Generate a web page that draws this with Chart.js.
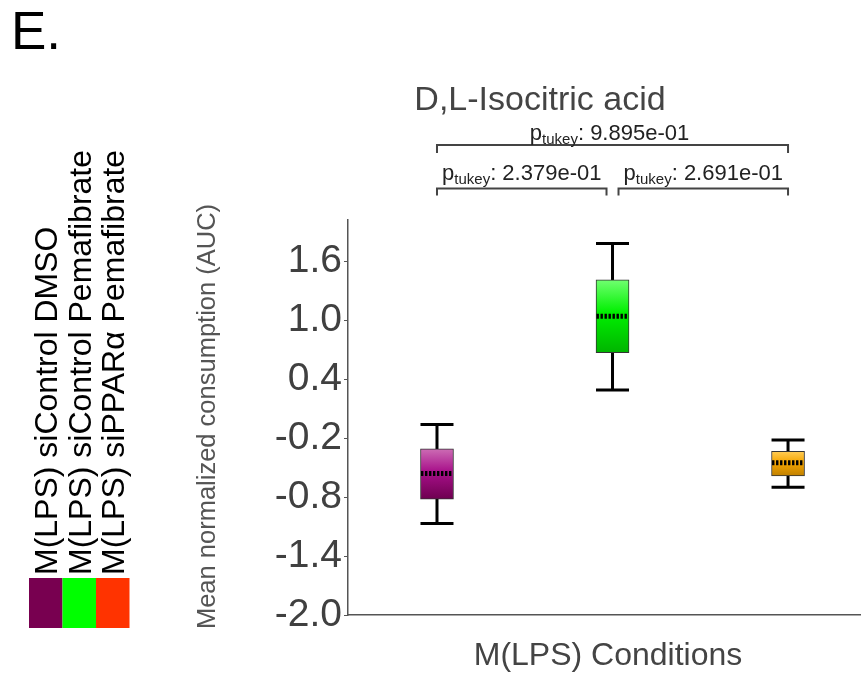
<!DOCTYPE html>
<html>
<head>
<meta charset="utf-8">
<script src="https://cdn.jsdelivr.net/npm/chart.js@4/dist/chart.umd.min.js"></script>
<style>
html,body{margin:0;padding:0;background:#fff;}
#wrap{width:861px;height:675px;position:relative;}
</style>
</head>
<body>
<div id="wrap"><canvas id="c" width="861" height="675"></canvas></div>
<script>
// ---- data ----
const CATEGORIES = ['M(LPS) siControl DMSO', 'M(LPS) siControl Pemafibrate', 'M(LPS) siPPARα Pemafibrate'];
const POSITIONS = [1, 2, 3];
const WHISKER_LOW = [-1.07, 0.29, -0.70];
const Q1 = [-0.82, 0.67, -0.585];
const MEDIAN = [-0.56, 1.04, -0.45];
const Q3 = [-0.31, 1.41, -0.335];
const WHISKER_HIGH = [-0.06, 1.78, -0.22];
const Y_TICKS = [-2.0, -1.4, -0.8, -0.2, 0.4, 1.0, 1.6];
const P_VALUES = ['2.379e-01', '2.691e-01', '9.895e-01'];
const LEGEND_COLORS = ['#780050', '#00ff00', '#ff3300'];
const BOX_GRADIENTS = [
  ['#cc6cb4', '#a8108a', '#6e0050'],
  ['#70ff70', '#00f000', '#00b400'],
  ['#ffcc55', '#f5a500', '#c08000']
];
const TITLE = 'D,L-Isocitric acid';
const X_TITLE = 'M(LPS) Conditions';
const Y_TITLE = 'Mean normalized consumption (AUC)';
const PANEL = 'E.';

const FONT = '"Liberation Sans", Arial, sans-serif';

const boxData = POSITIONS.map((p, i) => ({ x: p, y: [Q1[i], Q3[i]] }));

function boxFill(ctx) {
  const chart = ctx.chart;
  const i = ctx.dataIndex;
  const stops = BOX_GRADIENTS[i] || BOX_GRADIENTS[0];
  const ys = chart.scales && chart.scales.y;
  if (!ys || i === undefined) return stops[1];
  const top = ys.getPixelForValue(Q3[i]);
  const bot = ys.getPixelForValue(Q1[i]);
  if (!isFinite(top) || !isFinite(bot)) return stops[1];
  const g = chart.ctx.createLinearGradient(0, top, 0, bot);
  g.addColorStop(0, stops[0]);
  g.addColorStop(0.45, stops[1]);
  g.addColorStop(1, stops[2]);
  return g;
}

const overlay = {
  id: 'overlay',
  beforeDatasetsDraw(chart) {
    const { ctx, scales: { x, y } } = chart;
    ctx.save();
    ctx.strokeStyle = '#000';
    ctx.lineWidth = 3;
    POSITIONS.forEach((p, i) => {
      const cx = x.getPixelForValue(p);
      const half = 16.5;
      ctx.beginPath();
      ctx.moveTo(cx, y.getPixelForValue(WHISKER_HIGH[i]));
      ctx.lineTo(cx, y.getPixelForValue(Q3[i]));
      ctx.moveTo(cx, y.getPixelForValue(Q1[i]));
      ctx.lineTo(cx, y.getPixelForValue(WHISKER_LOW[i]));
      ctx.moveTo(cx - half, y.getPixelForValue(WHISKER_HIGH[i]));
      ctx.lineTo(cx + half, y.getPixelForValue(WHISKER_HIGH[i]));
      ctx.moveTo(cx - half, y.getPixelForValue(WHISKER_LOW[i]));
      ctx.lineTo(cx + half, y.getPixelForValue(WHISKER_LOW[i]));
      ctx.stroke();
    });
    ctx.restore();
  },
  afterDatasetsDraw(chart) {
    const { ctx, scales: { x, y } } = chart;
    ctx.save();
    ctx.strokeStyle = '#000';
    ctx.lineWidth = 5;
    ctx.setLineDash([2.4, 1.6]);
    POSITIONS.forEach((p, i) => {
      const cx = x.getPixelForValue(p);
      const my = y.getPixelForValue(MEDIAN[i]);
      ctx.beginPath();
      ctx.moveTo(cx - 16, my);
      ctx.lineTo(cx + 16, my);
      ctx.stroke();
    });
    ctx.restore();
  },
  afterDraw(chart) {
    const { ctx, scales: { x, y } } = chart;
    ctx.save();
    // panel letter
    ctx.fillStyle = '#000';
    ctx.font = '53px ' + FONT;
    ctx.textAlign = 'left';
    ctx.textBaseline = 'alphabetic';
    ctx.fillText(PANEL, 11, 49);

    // title
    ctx.fillStyle = '#444';
    ctx.font = '34px ' + FONT;
    ctx.textAlign = 'center';
    ctx.fillText(TITLE, 540, 110);

    // x title
    ctx.font = '32px ' + FONT;
    ctx.fillStyle = '#444';
    ctx.fillText(X_TITLE, (chart.chartArea.left + chart.chartArea.right) / 2 + 4, 665);

    // y title
    ctx.save();
    ctx.translate(215, 416.5);
    ctx.rotate(-Math.PI / 2);
    ctx.font = '25.5px ' + FONT;
    ctx.fillStyle = '#555';
    ctx.textAlign = 'center';
    ctx.fillText(Y_TITLE, 0, 0);
    ctx.restore();

    // legend
    const sqW = 33.5, sqTop = 578, sqH = 50, sqLeft = 29;
    CATEGORIES.forEach((c, i) => {
      ctx.fillStyle = LEGEND_COLORS[i];
      ctx.fillRect(sqLeft + i * sqW, sqTop, sqW, sqH);
      ctx.save();
      ctx.translate(sqLeft + i * sqW + 28, 575);
      ctx.rotate(-Math.PI / 2);
      ctx.fillStyle = '#000';
      ctx.font = '32px ' + FONT;
      ctx.textAlign = 'left';
      ctx.fillText(c, 0, 0);
      ctx.restore();
    });

    // brackets
    const x1 = x.getPixelForValue(POSITIONS[0]);
    const x2 = x.getPixelForValue(POSITIONS[1]);
    const x3 = x.getPixelForValue(POSITIONS[2]);
    ctx.strokeStyle = '#444';
    ctx.lineWidth = 2;
    function bracket(a, b, yy, drop) {
      ctx.beginPath();
      ctx.moveTo(a, yy + drop);
      ctx.lineTo(a, yy);
      ctx.lineTo(b, yy);
      ctx.lineTo(b, yy + drop);
      ctx.stroke();
    }
    bracket(x1, x3, 145, 8);
    bracket(x1, x2 - 6, 188.5, 7);
    bracket(x2 + 6, x3, 188.5, 7);

    function pLabel(cx, base, val) {
      ctx.textAlign = 'left';
      ctx.fillStyle = '#222';
      ctx.font = '22px ' + FONT;
      const wp = ctx.measureText('p').width;
      const rest = ': ' + val;
      const wr = ctx.measureText(rest).width;
      ctx.font = '15px ' + FONT;
      const ws = ctx.measureText('tukey').width;
      const start = cx - (wp + ws + wr) / 2;
      ctx.font = '22px ' + FONT;
      ctx.fillText('p', start, base);
      ctx.font = '15px ' + FONT;
      ctx.fillText('tukey', start + wp, base + 4);
      ctx.font = '22px ' + FONT;
      ctx.fillText(rest, start + wp + ws, base);
    }
    pLabel((x1 + x3) / 2 - 3, 140, P_VALUES[2]);
    pLabel((x1 + x2 - 6) / 2, 180, P_VALUES[0]);
    pLabel((x2 + 6 + x3) / 2, 180, P_VALUES[1]);
    ctx.restore();
  }
};

new Chart(document.getElementById('c'), {
  type: 'bar',
  data: {
    datasets: [{
      data: boxData,
      backgroundColor: boxFill,
      borderColor: '#333',
      borderWidth: 1,
      borderSkipped: false,
      barThickness: 33
    }]
  },
  options: {
    responsive: false,
    animation: false,
    events: [],
    layout: { padding: { left: 0, top: 220, right: 1, bottom: 60 } },
    plugins: { legend: { display: false }, tooltip: { enabled: false }, title: { display: false } },
    scales: {
      x: {
        type: 'linear',
        offset: false,
        min: 0.493,
        max: 3.41,
        ticks: { display: false },
        grid: { display: false, offset: false },
        border: { display: true, color: '#555', width: 1.5 },
        afterFit(s) { s.height = 0; }
      },
      y: {
        type: 'linear',
        min: -2.0,
        max: 2.02,
        afterBuildTicks(s) { s.ticks = Y_TICKS.map(v => ({ value: v })); },
        afterFit(s) { s.width = 348; },
        ticks: {
          font: { family: FONT, size: 39 },
          color: '#404040',
          padding: 2,
          callback: v => Number(v).toFixed(1)
        },
        grid: { display: true, drawOnChartArea: false, drawTicks: true, tickLength: 4, color: '#555' },
        border: { display: true, color: '#555', width: 1.5 }
      }
    }
  },
  plugins: [overlay]
});
</script>
</body>
</html>
